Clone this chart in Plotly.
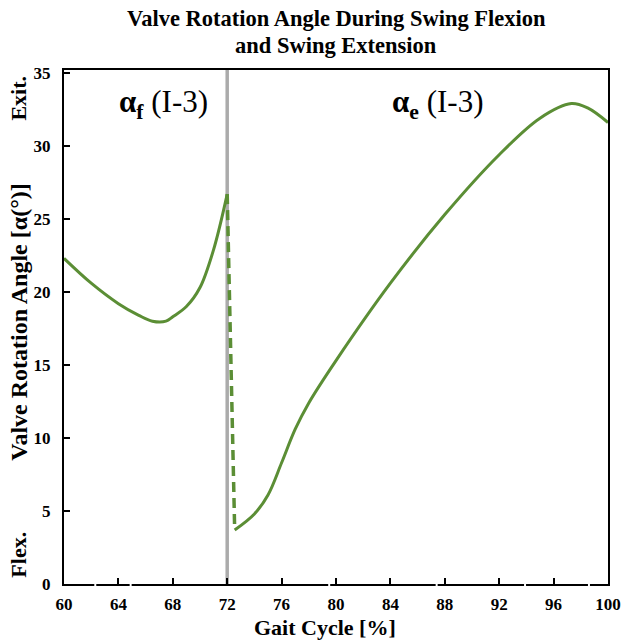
import plotly.graph_objects as go

# Swing flexion segment (alpha_f)
flex_x = [60, 62, 64, 65.5, 66.5, 67.5, 68, 69, 70, 71, 72]
flex_y = [22.3, 20.6, 19.2, 18.4, 18.0, 18.0, 18.3, 19.0, 20.3, 22.9, 26.7]

# Transition (dashed)
trans_x = [72, 72.55]
trans_y = [26.7, 3.7]

# Swing extension segment (alpha_e)
ext_x = [72.55, 74, 75, 76, 77, 78, 80, 84, 88, 92, 95, 97.3, 98.5, 100]
ext_y = [3.7, 4.8, 6.1, 8.3, 10.6, 12.4, 15.3, 20.6, 25.3, 29.4, 31.9, 32.9, 32.6, 31.6]

x_ticks = [60, 64, 68, 72, 76, 80, 84, 88, 92, 96, 100]
y_ticks = [0, 5, 10, 15, 20, 25, 30, 35]
axis_gaps = [62.3, 64.9, 79.5, 87.4, 93.9, 98.6]

GREEN = "#5B8E35"
FONT = "Liberation Serif"

fig = go.Figure()
fig.add_trace(go.Scatter(x=flex_x, y=flex_y, mode="lines",
                         line=dict(color=GREEN, width=3, shape="spline", smoothing=1.0),
                         showlegend=False, hoverinfo="skip"))
fig.add_trace(go.Scatter(x=trans_x, y=trans_y, mode="lines",
                         line=dict(color=GREEN, width=3.5, dash="10px,6px"),
                         showlegend=False, hoverinfo="skip"))
fig.add_trace(go.Scatter(x=ext_x, y=ext_y, mode="lines",
                         line=dict(color=GREEN, width=3, shape="spline", smoothing=1.0),
                         showlegend=False, hoverinfo="skip"))

fig.add_shape(type="line", xref="x", yref="paper", x0=72, x1=72, y0=0, y1=1,
              line=dict(color="#ABABAB", width=3.5), layer="below")
for g in axis_gaps:
    fig.add_shape(type="line", xref="x", yref="paper", x0=g, x1=g, y0=-0.004, y1=0.004,
                  line=dict(color="white", width=2), layer="above")

fig.update_layout(
    width=633, height=640,
    margin=dict(l=64, r=16, t=70, b=56),
    paper_bgcolor="white", plot_bgcolor="white",
    font=dict(family=FONT, color="black"),
)
fig.update_xaxes(range=[60, 100], tickvals=x_ticks, ticktext=[f"<b>{v}</b>" for v in x_ticks],
                 showline=True, linecolor="black", linewidth=2, mirror=True,
                 ticks="inside", ticklen=6, tickwidth=1.5, tickcolor="black",
                 showgrid=False, zeroline=False, ticklabelstandoff=4,
                 tickfont=dict(family=FONT, size=17, color="black"))
fig.update_yaxes(range=[0, 35.2], tickvals=y_ticks, ticktext=[f"<b>{v}</b>" for v in y_ticks],
                 showline=True, linecolor="black", linewidth=2, mirror=True,
                 ticks="inside", ticklen=6, tickwidth=1.5, tickcolor="black",
                 showgrid=False, zeroline=False, ticklabelstandoff=8,
                 tickfont=dict(family=FONT, size=17, color="black"))

# Title (two lines)
title_font = dict(family=FONT, size=22.5, color="black")
fig.add_annotation(text="<b>Valve Rotation Angle During Swing Flexion</b>", xref="paper", yref="paper",
                   x=0.5, y=1.101, showarrow=False, font=title_font, xanchor="center", yanchor="middle")
fig.add_annotation(text="<b>and Swing Extension</b>", xref="paper", yref="paper",
                   x=0.5, y=1.0486, showarrow=False, font=title_font, xanchor="center", yanchor="middle")

# X axis title
fig.add_annotation(text="<b>Gait Cycle [%]</b>", xref="paper", yref="paper",
                   x=0.479, y=-0.0837, showarrow=False, xanchor="center", yanchor="middle",
                   font=dict(family=FONT, size=22, color="black"))

ann_font = dict(family=FONT, size=31, color="black")
fig.add_annotation(text="<b>α</b><sub><b>f</b></sub> (I-3)", x=67.3, y=32.9, xref="x", yref="y",
                   showarrow=False, font=ann_font, xanchor="center", yanchor="middle")
fig.add_annotation(text="<b>α</b><sub><b>e</b></sub> (I-3)", x=87.5, y=32.9, xref="x", yref="y",
                   showarrow=False, font=ann_font, xanchor="center", yanchor="middle")

yl_font = dict(family=FONT, size=22, color="black")
fig.add_annotation(text="<b>Valve Rotation Angle [α(°)]</b>", xref="paper", yref="paper",
                   x=-0.083, y=0.51, textangle=-90, showarrow=False,
                   font=dict(family=FONT, size=24, color="black"),
                   xanchor="center", yanchor="middle")
fig.add_annotation(text="<b>Exit.</b>", xref="paper", yref="y",
                   x=-0.083, y=33.3, textangle=-90, showarrow=False, font=yl_font,
                   xanchor="center", yanchor="middle")
fig.add_annotation(text="<b>Flex.</b>", xref="paper", yref="y",
                   x=-0.083, y=2.0, textangle=-90, showarrow=False, font=yl_font,
                   xanchor="center", yanchor="middle")

fig.write_html("out.html", config={"displayModeBar": False},
               post_script="document.body.style.margin='0';")
